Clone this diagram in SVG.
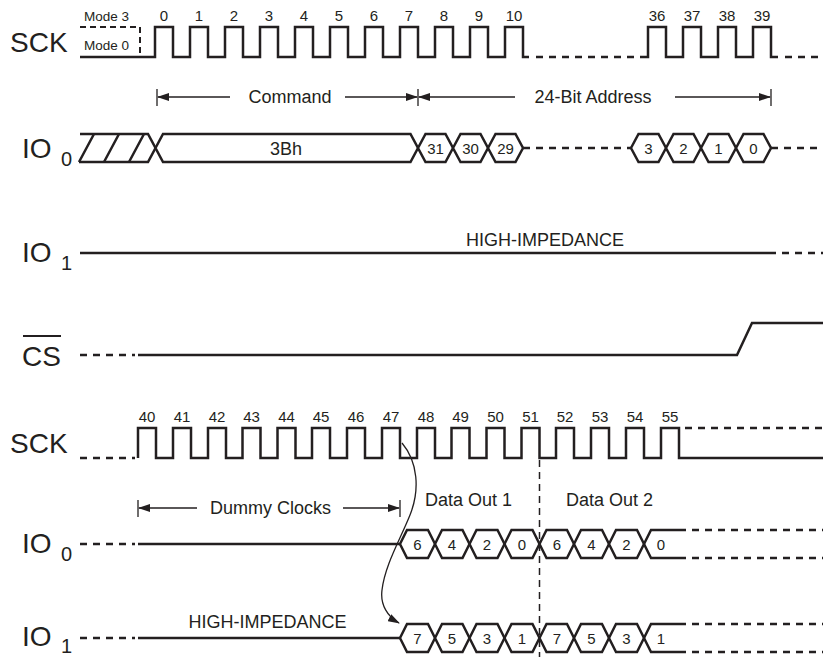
<svg xmlns="http://www.w3.org/2000/svg" width="823" height="657" viewBox="0 0 823 657">
<style>
.sig{fill:none;stroke:#231f20;stroke-width:2.5;stroke-linejoin:miter}
.dash{fill:none;stroke:#231f20;stroke-width:2.5;stroke-dasharray:7 6}
.thin{fill:none;stroke:#231f20;stroke-width:1.3}
.hex{fill:#fff;stroke:#231f20;stroke-width:2.5;stroke-linejoin:miter}
text{font-family:"Liberation Sans",Arial,sans-serif;fill:#231f20}
.big{font-size:28px}
.sub{font-size:20px}
.num{font-size:15px;text-anchor:middle}
.lbl{font-size:18px}
.mid{text-anchor:middle}
.mode{font-size:13.5px}
</style>
<defs>
<marker id="arr" viewBox="0 0 12 8" refX="11" refY="4" markerWidth="12" markerHeight="8" markerUnits="userSpaceOnUse" orient="auto">
<path d="M0,0 L12,4 L0,8 Z" fill="#231f20"/>
</marker>
</defs>

<g id="labels">
<text class="big" x="10" y="52">SCK</text>
<text class="big" x="22" y="158">IO</text><text class="sub" x="61" y="166">0</text>
<text class="big" x="22" y="262">IO</text><text class="sub" x="61" y="270">1</text>
<text class="big" x="22" y="366">CS</text>
<line class="thin" x1="23" y1="336" x2="61" y2="336" style="stroke-width:1.8"/>
<text class="big" x="10" y="453">SCK</text>
<text class="big" x="22" y="553">IO</text><text class="sub" x="61" y="561">0</text>
<text class="big" x="22" y="646">IO</text><text class="sub" x="61" y="653">1</text>
</g>

<g id="sck-top">
<text class="mode" x="84" y="21">Mode 3</text>
<text class="mode" x="84" y="50">Mode 0</text>
<path class="dash" d="M80,27 H140 V55" style="stroke-width:2;stroke-dasharray:6 4"/>
<path class="sig" d="M80,57 H155 V27 H173 V57 H190 V27 H208 V57 H225 V27 H243 V57 H260 V27 H278 V57 H295 V27 H313 V57 H330 V27 H348 V57 H365 V27 H383 V57 H400 V27 H418 V57 H435 V27 H453 V57 H470 V27 H488 V57 H505 V27 H523 V57 H529"/>
<path class="dash" d="M536,57 H645"/>
<path class="sig" d="M645,57 H648 V27 H666 V57 H683 V27 H701 V57 H718 V27 H736 V57 H753 V27 H771 V57 H778"/>
<path class="dash" d="M785,57 H823"/>
<text class="num" x="164" y="21">0</text>
<text class="num" x="199" y="21">1</text>
<text class="num" x="234" y="21">2</text>
<text class="num" x="269" y="21">3</text>
<text class="num" x="304" y="21">4</text>
<text class="num" x="339" y="21">5</text>
<text class="num" x="374" y="21">6</text>
<text class="num" x="409" y="21">7</text>
<text class="num" x="444" y="21">8</text>
<text class="num" x="479" y="21">9</text>
<text class="num" x="514" y="21">10</text>
<text class="num" x="657" y="21">36</text>
<text class="num" x="692" y="21">37</text>
<text class="num" x="727" y="21">38</text>
<text class="num" x="762" y="21">39</text>
</g>

<g id="spans-top">
<line class="thin" x1="157" y1="89" x2="157" y2="106"/>
<line class="thin" x1="230" y1="97" x2="158" y2="97" marker-end="url(#arr)"/>
<text class="lbl mid" x="290" y="103">Command</text>
<line class="thin" x1="345" y1="97" x2="417" y2="97" marker-end="url(#arr)"/>
<line class="thin" x1="418" y1="89" x2="418" y2="106"/>
<line class="thin" x1="515" y1="97" x2="419" y2="97" marker-end="url(#arr)"/>
<text class="lbl mid" x="593" y="103">24-Bit Address</text>
<line class="thin" x1="675" y1="97" x2="770" y2="97" marker-end="url(#arr)"/>
<line class="thin" x1="771" y1="89" x2="771" y2="106"/>
</g>

<g id="io0-top">
<path class="sig" d="M80,134 H148 L155.5,148 L148,162 H79"/>
<path class="sig" d="M79,162 L94,134 M104,162 L119,134 M129,162 L144,134"/>
<polygon class="hex" points="155.5,148 163,134 410.5,134 418,148 410.5,162 163,162"/>
<text class="lbl mid" x="286" y="155">3Bh</text>
<polygon class="hex" points="418,148 425.5,134 445.5,134 453,148 445.5,162 425.5,162"/>
<polygon class="hex" points="453,148 460.5,134 480.5,134 488,148 480.5,162 460.5,162"/>
<polygon class="hex" points="488,148 495.5,134 515.5,134 523,148 515.5,162 495.5,162"/>
<path class="dash" d="M523,148 H631"/>
<polygon class="hex" points="631,148 638.5,134 658.5,134 666,148 658.5,162 638.5,162"/>
<polygon class="hex" points="666,148 673.5,134 693.5,134 701,148 693.5,162 673.5,162"/>
<polygon class="hex" points="701,148 708.5,134 728.5,134 736,148 728.5,162 708.5,162"/>
<polygon class="hex" points="736,148 743.5,134 763.5,134 771,148 763.5,162 743.5,162"/>
<path class="dash" d="M771,148 H823"/>
<text class="num" x="435.5" y="154">31</text>
<text class="num" x="470.5" y="154">30</text>
<text class="num" x="505.5" y="154">29</text>
<text class="num" x="648.5" y="154">3</text>
<text class="num" x="683.5" y="154">2</text>
<text class="num" x="718.5" y="154">1</text>
<text class="num" x="753.5" y="154">0</text>
</g>

<g id="io1-top">
<text class="lbl mid" x="545" y="246">HIGH-IMPEDANCE</text>
<path class="sig" d="M80,253 H776"/>
<path class="dash" d="M782,253 H823"/>
</g>

<g id="cs">
<path class="dash" d="M80,355 H135"/>
<path class="sig" d="M138,355 H737 L752,323 H823"/>
</g>

<g id="sck-bottom">
<path class="dash" d="M80,458 H135"/>
<path class="sig" d="M138,458 V428 H156 V458 H173 V428 H191 V458 H208 V428 H226 V458 H242.5 V428 H260.5 V458 H277.5 V428 H295.5 V458 H312 V428 H330 V458 H347 V428 H365 V458 H382 V428 H400 V458 H417 V428 H435 V458 H451.5 V428 H469.5 V458 H486.5 V428 H504.5 V458 H521.5 V428 H539.5 V458 H556 V428 H574 V458 H591 V428 H609 V458 H626 V428 H644 V458 H661 V428 H679 V458 H823"/>
<path class="dash" d="M685,428 H823"/>
<text class="num" x="147" y="422">40</text>
<text class="num" x="182" y="422">41</text>
<text class="num" x="217" y="422">42</text>
<text class="num" x="251.5" y="422">43</text>
<text class="num" x="286.5" y="422">44</text>
<text class="num" x="321" y="422">45</text>
<text class="num" x="356" y="422">46</text>
<text class="num" x="391" y="422">47</text>
<text class="num" x="426" y="422">48</text>
<text class="num" x="460.5" y="422">49</text>
<text class="num" x="495.5" y="422">50</text>
<text class="num" x="530.5" y="422">51</text>
<text class="num" x="565" y="422">52</text>
<text class="num" x="600" y="422">53</text>
<text class="num" x="635" y="422">54</text>
<text class="num" x="670" y="422">55</text>
</g>

<g id="spans-bottom">
<line class="thin" x1="138" y1="500" x2="138" y2="517"/>
<line class="thin" x1="197" y1="508" x2="139" y2="508" marker-end="url(#arr)"/>
<text class="lbl mid" x="270.5" y="514">Dummy Clocks</text>
<line class="thin" x1="343" y1="508" x2="399" y2="508" marker-end="url(#arr)"/>
<line class="thin" x1="400" y1="500" x2="400" y2="517"/>
<text class="lbl" x="425" y="506">Data Out 1</text>
<text class="lbl" x="566" y="506">Data Out 2</text>
</g>

<g id="io0-bottom">
<path class="dash" d="M80,544 H135"/>
<path class="sig" d="M138,544 H400"/>
<polygon class="hex" points="400,544 407,530 428,530 435,544 428,558 407,558"/>
<polygon class="hex" points="435,544 442,530 462.5,530 469.5,544 462.5,558 442,558"/>
<polygon class="hex" points="469.5,544 476.5,530 497.5,530 504.5,544 497.5,558 476.5,558"/>
<polygon class="hex" points="504.5,544 511.5,530 532.5,530 539.5,544 532.5,558 511.5,558"/>
<polygon class="hex" points="539.5,544 546.5,530 567,530 574,544 567,558 546.5,558"/>
<polygon class="hex" points="574,544 581,530 602,530 609,544 602,558 581,558"/>
<polygon class="hex" points="609,544 616,530 637,530 644,544 637,558 616,558"/>
<path class="sig" d="M686,530 H651 L644,544 L651,558 H686"/>
<path class="dash" d="M692,530 H823 M692,558 H823"/>
<text class="num" x="417.5" y="550">6</text>
<text class="num" x="452" y="550">4</text>
<text class="num" x="487" y="550">2</text>
<text class="num" x="522" y="550">0</text>
<text class="num" x="557" y="550">6</text>
<text class="num" x="591.5" y="550">4</text>
<text class="num" x="626.5" y="550">2</text>
<text class="num" x="661" y="550">0</text>
</g>

<g id="io1-bottom">
<text class="lbl mid" x="267.5" y="628">HIGH-IMPEDANCE</text>
<path class="dash" d="M80,638 H135"/>
<path class="sig" d="M138,638 H400"/>
<polygon class="hex" points="400,638 407,624 428,624 435,638 428,652 407,652"/>
<polygon class="hex" points="435,638 442,624 462.5,624 469.5,638 462.5,652 442,652"/>
<polygon class="hex" points="469.5,638 476.5,624 497.5,624 504.5,638 497.5,652 476.5,652"/>
<polygon class="hex" points="504.5,638 511.5,624 532.5,624 539.5,638 532.5,652 511.5,652"/>
<polygon class="hex" points="539.5,638 546.5,624 567,624 574,638 567,652 546.5,652"/>
<polygon class="hex" points="574,638 581,624 602,624 609,638 602,652 581,652"/>
<polygon class="hex" points="609,638 616,624 637,624 644,638 637,652 616,652"/>
<path class="sig" d="M686,624 H651 L644,638 L651,652 H686"/>
<path class="dash" d="M692,624 H823 M692,652 H823"/>
<text class="num" x="417.5" y="644">7</text>
<text class="num" x="452" y="644">5</text>
<text class="num" x="487" y="644">3</text>
<text class="num" x="522" y="644">1</text>
<text class="num" x="557" y="644">7</text>
<text class="num" x="591.5" y="644">5</text>
<text class="num" x="626.5" y="644">3</text>
<text class="num" x="661" y="644">1</text>
</g>

<g id="connectors">
<line class="thin" x1="539.5" y1="460" x2="539.5" y2="657" style="stroke-width:1.5;stroke-dasharray:7 5"/>
<path class="thin" d="M402,443 C418,462 420,490 410,515 C400,540 385,565 382,590 C380,605 388,617 399,623" marker-end="url(#arr)"/>
</g>
</svg>
